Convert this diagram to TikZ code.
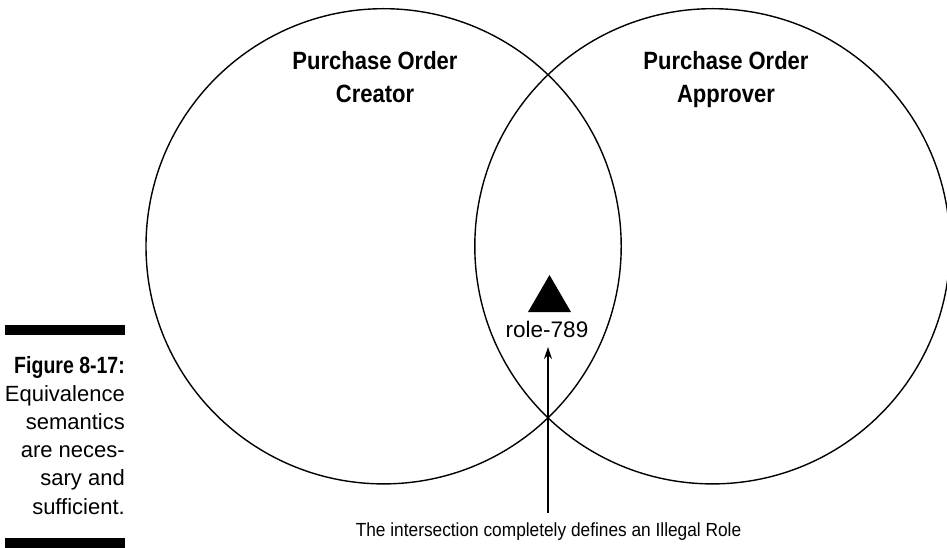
\documentclass[tikz,border=0pt]{standalone}
\usepackage{fontspec}
\setmainfont{Liberation Sans}
\newfontfamily\titlefam[FakeStretch=0.88]{Liberation Sans}
\newfontfamily\capfam[FakeStretch=0.83]{Liberation Sans}
\newfontfamily\notefam[FakeStretch=0.91]{Liberation Sans}
\usetikzlibrary{arrows.meta}
\begin{document}
\begin{tikzpicture}[x=1pt,y=-1pt,
  ring/.style={draw=black,line width=1.4pt},
  title/.style={anchor=base,inner sep=0pt,font=\titlefam\bfseries\fontsize{25}{30}\selectfont},
  capbold/.style={anchor=base east,inner sep=0pt,font=\capfam\bfseries\fontsize{23.5}{28}\selectfont},
  captext/.style={anchor=base east,inner sep=0pt,font=\fontsize{22}{28}\selectfont},
  bar/.style={fill=black,draw=none},
  pointer/.style={line width=1.4pt,-{Stealth[length=12pt,width=8pt]}}]
\useasboundingbox (0,0) rectangle (947,548);
% circles
\draw[ring] (383.6,246.3) circle[radius=237.6pt];
\draw[ring] (712.4,246.3) circle[radius=237.6pt];
% titles
\node[title] (t1a) at (375,70) {Purchase Order};
\node[title] (t1b) at (375,103) {Creator};
\node[title] (t2a) at (726,70) {Purchase Order};
\node[title] (t2b) at (726,103) {Approver};
% triangle and label
\fill[black] (528,312) -- (549.5,275) -- (571,312) -- cycle;
\node[anchor=base,inner sep=0pt,font=\fontsize{22.5}{27}\selectfont] (role) at (547,337) {role-789};
% arrow
\coordinate (tail) at (548,513);
\coordinate (tip) at (548,347);
\draw[pointer] (tail) -- (tip);
\node[anchor=base,inner sep=0pt,font=\notefam\fontsize{19}{23}\selectfont] (note) at (548.5,536) {The intersection completely defines an Illegal Role};
% caption
\fill[bar] (5,325) rectangle (125,335);
\fill[bar] (5,538) rectangle (125,548);
\node[capbold] (c1) at (125,373) {Figure 8-17:};
\node[captext] (c2) at (125,401) {Equivalence};
\node[captext] (c3) at (125,429) {semantics};
\node[captext] (c4) at (125,457) {are neces-};
\node[captext] (c5) at (125,485) {sary and};
\node[captext] (c6) at (125,514) {sufficient.};
\end{tikzpicture}
\end{document}
